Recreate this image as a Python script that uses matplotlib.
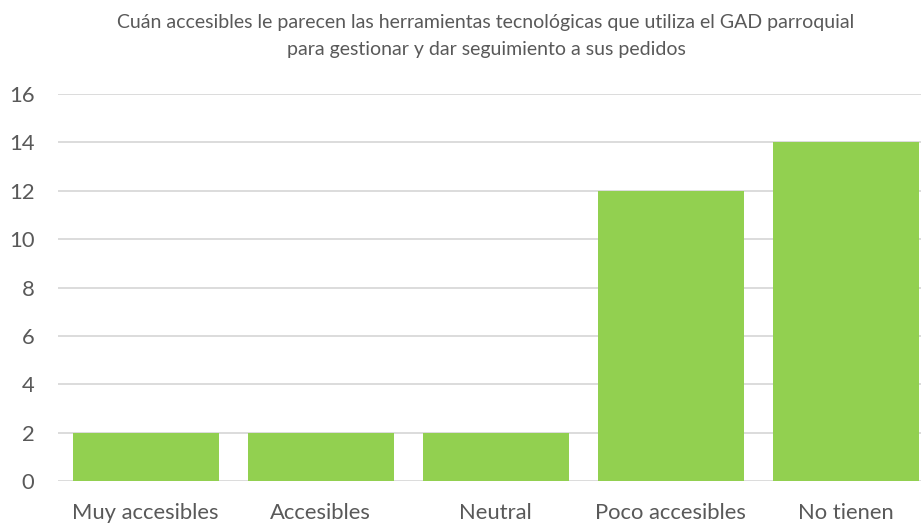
import matplotlib
matplotlib.use("Agg")
import matplotlib.pyplot as plt

categories = ["Muy accesibles", "Accesibles", "Neutral", "Poco accesibles", "No tienen"]
values = [2, 2, 2, 12, 14]
yticks = [0, 2, 4, 6, 8, 10, 12, 14, 16]
title = ("Cuán accesibles le parecen las herramientas tecnológicas que utiliza el GAD parroquial\n"
         "para gestionar y dar seguimiento a sus pedidos")

plt.rcParams['font.family'] = ['Lato', 'DejaVu Sans']

W, H = 923, 525
fig = plt.figure(figsize=(W / 100, H / 100), dpi=100)
left, right, top, bottom = 58, 921, 94, 481
ax = fig.add_axes([left / W, (H - bottom) / H, (right - left) / W, (bottom - top) / H])

x = list(range(len(categories)))
ax.bar(x, values, width=146 / 175, color="#92D050", zorder=3)
ax.set_xlim(-0.5, len(categories) - 0.5 - 12 / 175)
ax.set_ylim(0, 16)
ax.set_yticks(yticks)
ax.set_xticks(x)
ax.set_xticklabels(categories)
ax.grid(axis="y", color="#D9D9D9", linewidth=1.3, zorder=0)
for s in ax.spines.values():
    s.set_visible(False)
ax.tick_params(axis="both", length=0, labelsize=15.8, colors="#595959")
ax.tick_params(axis="y", pad=17)
ax.tick_params(axis="x", pad=16)

fig.text(486 / W, (H - 36) / H, title, ha="center", va="center", fontsize=14,
         color="#595959", linespacing=1.65)

fig.savefig("out.png", dpi=100, facecolor="white")
